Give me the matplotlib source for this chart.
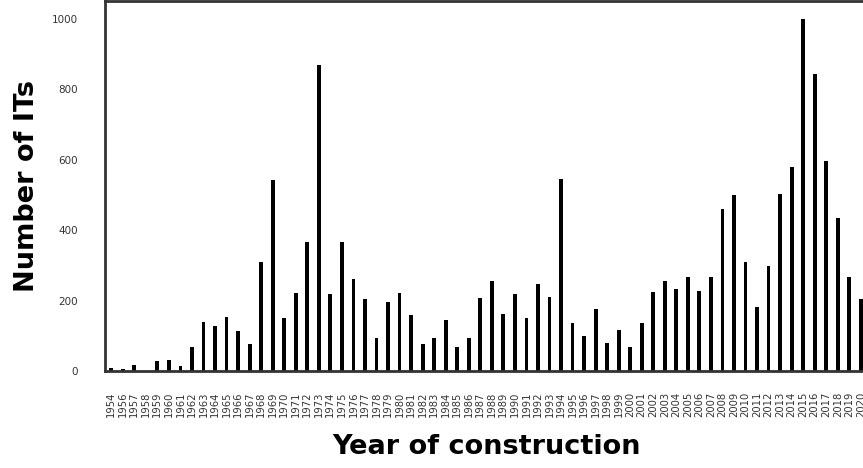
import matplotlib
matplotlib.use("Agg")
import matplotlib.pyplot as plt

years = [1954] + list(range(1956, 2021))
counts = [8, 5, 17, 0, 28, 31, 14, 69, 140, 127, 153, 115, 76, 309, 542,
          150, 221, 367, 868, 218, 367, 261, 205, 95, 195, 221, 160, 76, 95,
          144, 69, 95, 208, 257, 163, 218, 150, 247, 211, 545, 137, 101, 176,
          79, 117, 69, 137, 224, 257, 234, 266, 227, 266, 461, 499, 309, 182,
          299, 503, 580, 1000, 845, 596, 434, 266, 205]
tick_labels = [str(y) for y in years]

fig = plt.figure(figsize=(8.63, 4.68), dpi=100)
ax = fig.add_axes([0.1222, 0.207, 0.882, 0.79])

x = list(range(len(years)))
ax.bar(x, counts, width=0.33, color="black")
ax.set_xlim(-0.5, len(years) - 0.5)
ax.set_ylim(0, 1050)

ax.set_xticks(x)
ax.set_xticklabels(tick_labels, rotation=90, fontsize=7.2, color="#333333")
ax.set_yticks([0, 200, 400, 600, 800, 1000])
ax.tick_params(axis="y", length=0, pad=20, labelsize=7.5, labelcolor="#333333")
ax.tick_params(axis="x", length=0, pad=15)

for s in ax.spines.values():
    s.set_color("#333333")
    s.set_linewidth(2)

ax.set_ylabel("Number of ITs", fontsize=19.5, fontweight="bold", labelpad=8)
ax.set_xlabel("Year of construction", fontsize=19.5, fontweight="bold", labelpad=12)

fig.savefig("out.png", dpi=100)
